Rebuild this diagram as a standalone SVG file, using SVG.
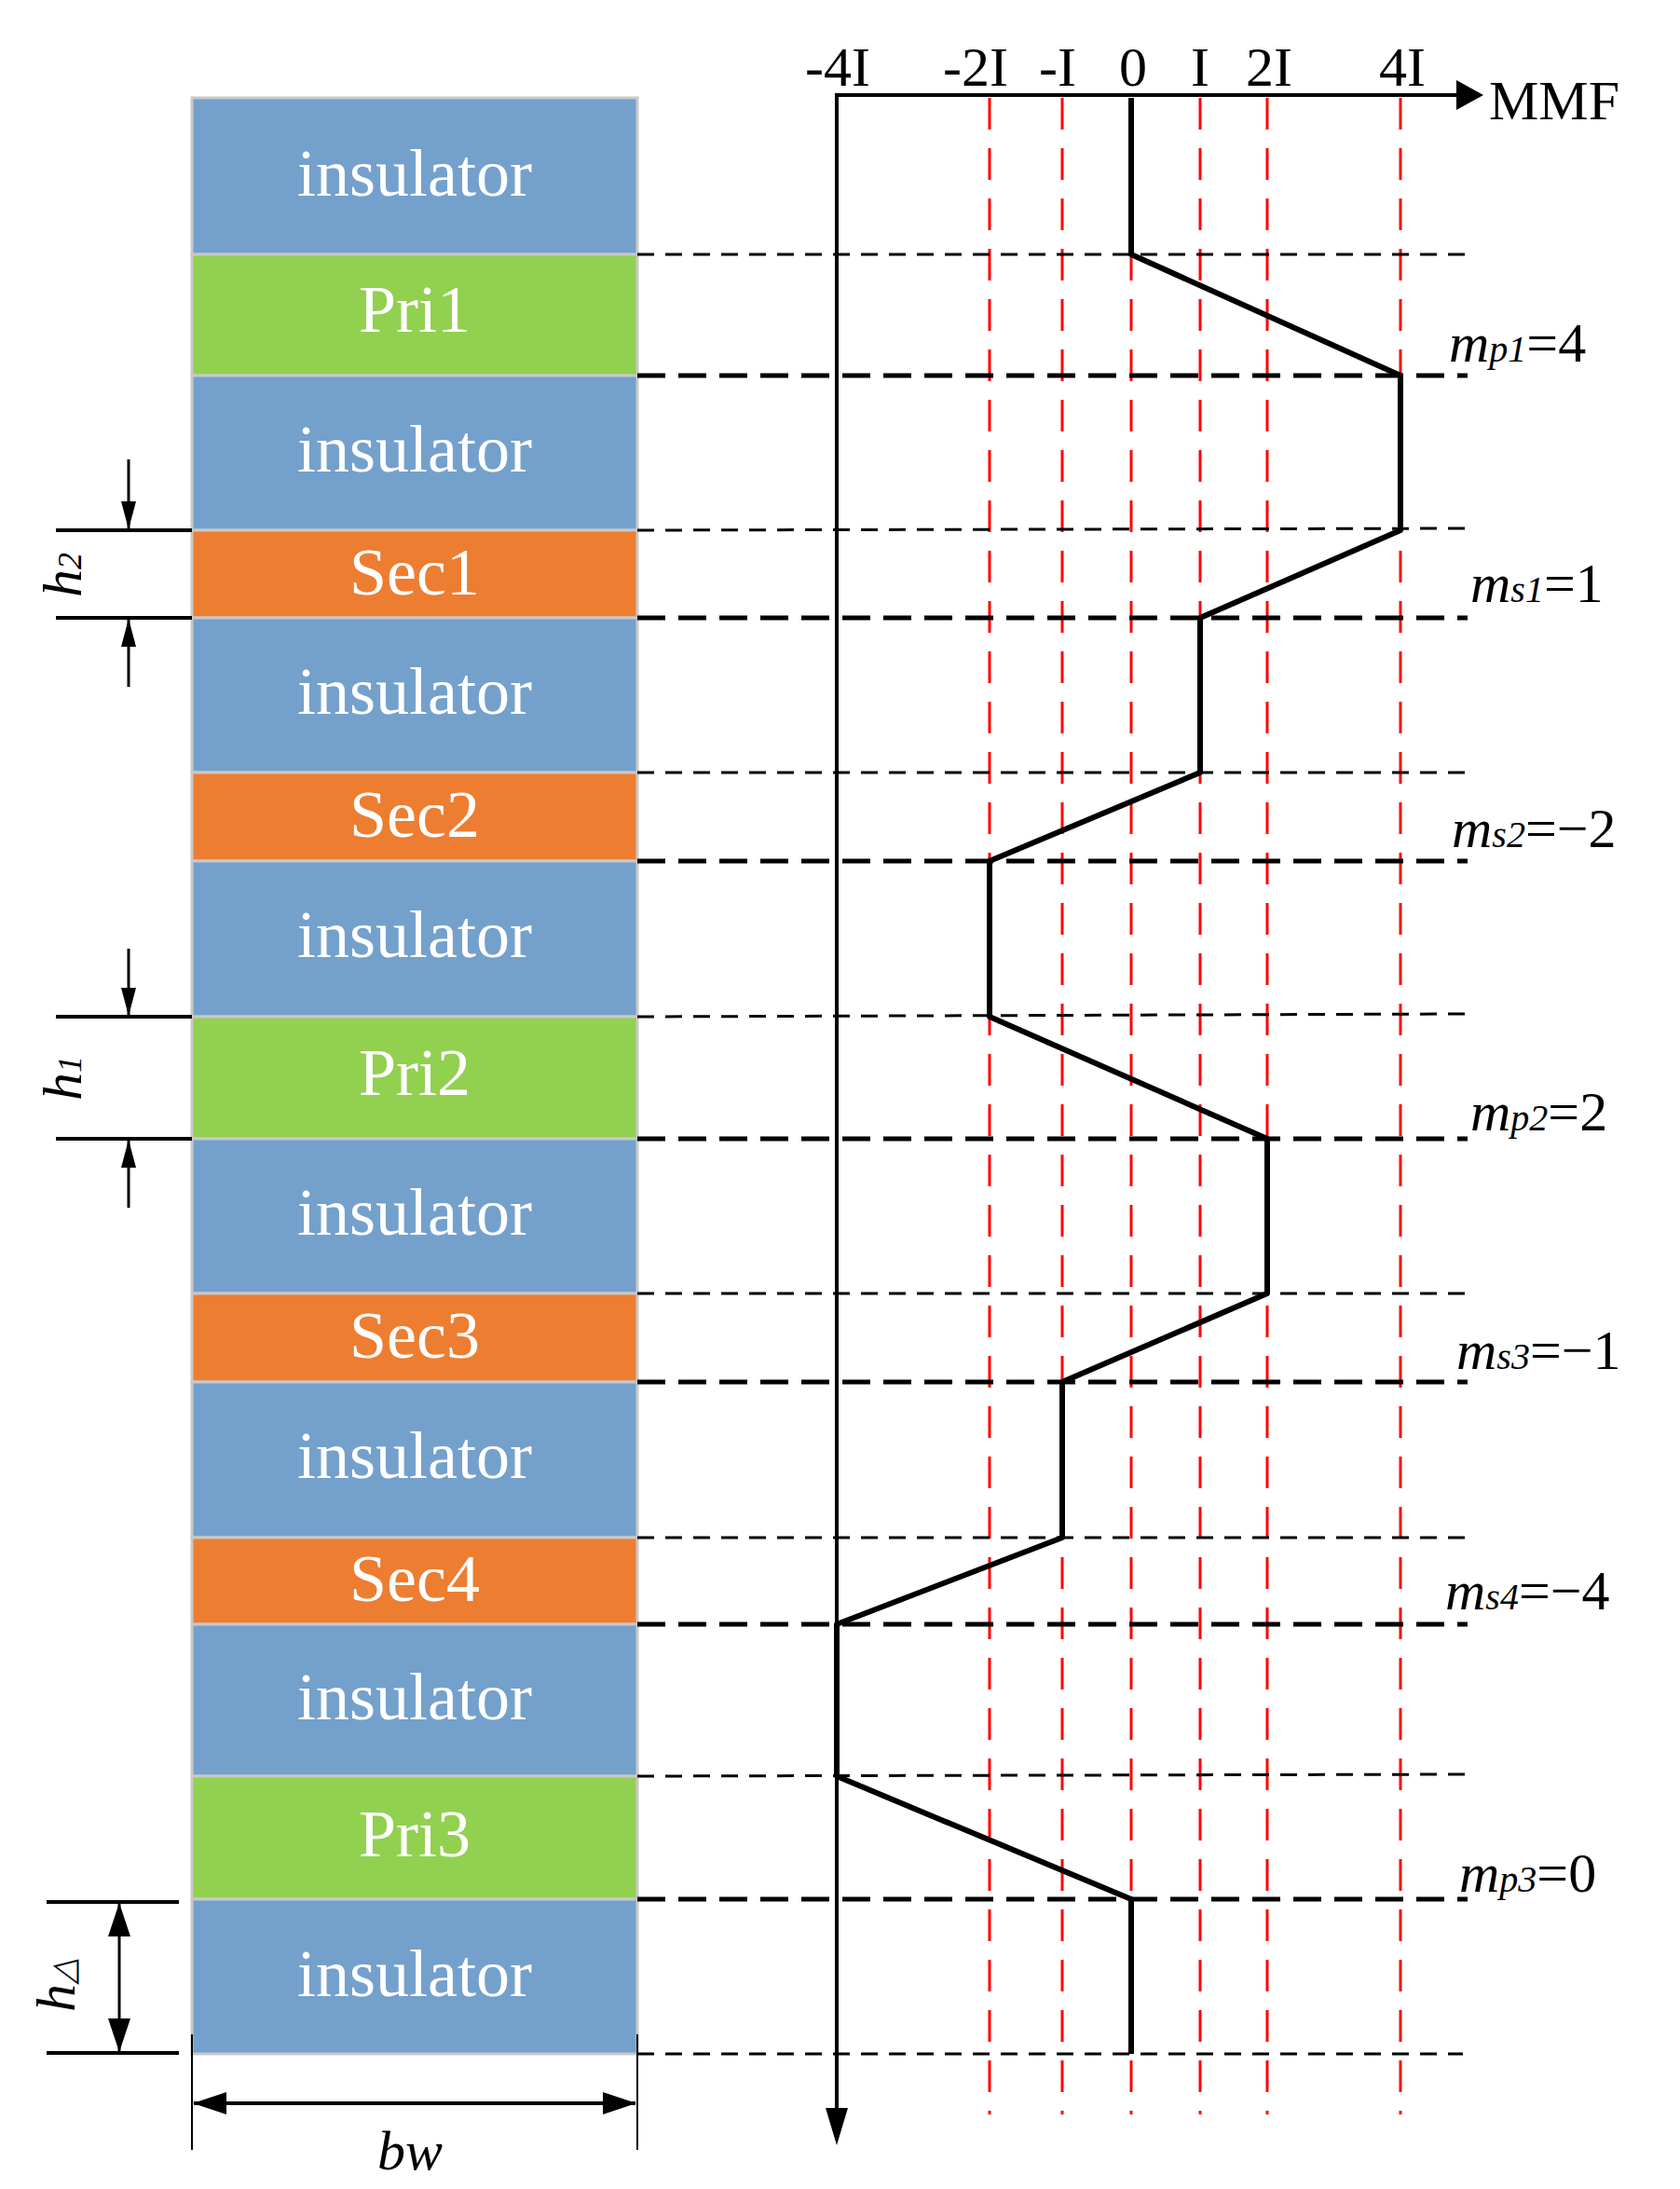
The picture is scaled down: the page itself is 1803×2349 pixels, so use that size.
<svg xmlns="http://www.w3.org/2000/svg" width="1803" height="2349" viewBox="0 0 1803 2349">
<style>
.ins{fill:#74A0CC;stroke:#C8C8C8;stroke-width:3}
.pri{fill:#92D050;stroke:#C8C8C8;stroke-width:3}
.sec{fill:#ED7D31;stroke:#C8C8C8;stroke-width:3}
.bl{font-family:"Liberation Serif",serif;font-size:72px;fill:#fff;text-anchor:middle}
.ax{font-family:"Liberation Serif",serif;font-size:60px;fill:#000;text-anchor:middle}
.lb{font-family:"Liberation Serif",serif;font-size:60px;fill:#000}
.it{font-style:italic}
.red{stroke:#FF0000;stroke-width:3;stroke-dasharray:34,20;fill:none}
.thin{stroke:#000;stroke-width:3;stroke-dasharray:18,12;fill:none}
.thick{stroke:#000;stroke-width:5;stroke-dasharray:30,14;fill:none}
.k{stroke:#000;fill:none}
</style>
<defs>
<marker id="ah" markerWidth="10" markerHeight="10" refX="9" refY="5" orient="auto" markerUnits="userSpaceOnUse" viewBox="0 0 10 10"><path d="M0,0 L10,5 L0,10 z" fill="#000"/></marker>
<marker id="ab" markerWidth="36" markerHeight="24" refX="35" refY="12" orient="auto-start-reverse" markerUnits="userSpaceOnUse"><path d="M0,0 L36,12 L0,24 z" fill="#000"/></marker>
<marker id="as" markerWidth="30" markerHeight="16" refX="29" refY="8" orient="auto-start-reverse" markerUnits="userSpaceOnUse"><path d="M0,0 L30,8 L0,16 z" fill="#000"/></marker>
</defs>
<g id="blocks">
<g id="ins1"><rect class="ins" x="206" y="105" width="478" height="168"/><text class="bl" x="445" y="210">insulator</text></g>
<g id="pri1"><rect class="pri" x="206" y="273" width="478" height="130"/><text class="bl" x="445" y="356">Pri1</text></g>
<g id="ins2"><rect class="ins" x="206" y="403" width="478" height="166"/><text class="bl" x="445" y="506">insulator</text></g>
<g id="sec1"><rect class="sec" x="206" y="569" width="478" height="94"/><text class="bl" x="445" y="638">Sec1</text></g>
<g id="ins3"><rect class="ins" x="206" y="663" width="478" height="166"/><text class="bl" x="445" y="766">insulator</text></g>
<g id="sec2"><rect class="sec" x="206" y="829" width="478" height="95"/><text class="bl" x="445" y="898">Sec2</text></g>
<g id="ins4"><rect class="ins" x="206" y="924" width="478" height="167"/><text class="bl" x="445" y="1027">insulator</text></g>
<g id="pri2"><rect class="pri" x="206" y="1091" width="478" height="131"/><text class="bl" x="445" y="1175">Pri2</text></g>
<g id="ins5"><rect class="ins" x="206" y="1222" width="478" height="166"/><text class="bl" x="445" y="1325">insulator</text></g>
<g id="sec3"><rect class="sec" x="206" y="1388" width="478" height="95"/><text class="bl" x="445" y="1457">Sec3</text></g>
<g id="ins6"><rect class="ins" x="206" y="1483" width="478" height="167"/><text class="bl" x="445" y="1586">insulator</text></g>
<g id="sec4"><rect class="sec" x="206" y="1650" width="478" height="93"/><text class="bl" x="445" y="1718">Sec4</text></g>
<g id="ins7"><rect class="ins" x="206" y="1743" width="478" height="163"/><text class="bl" x="445" y="1845">insulator</text></g>
<g id="pri3"><rect class="pri" x="206" y="1906" width="478" height="132"/><text class="bl" x="445" y="1992">Pri3</text></g>
<g id="ins8"><rect class="ins" x="206" y="2038" width="478" height="166"/><text class="bl" x="445" y="2142">insulator</text></g>
</g>
<g id="connectors">
<g id="redlines">
<line class="red" x1="1062" y1="105" x2="1062" y2="2269"/>
<line class="red" x1="1140" y1="105" x2="1140" y2="2269"/>
<line class="red" x1="1214" y1="105" x2="1214" y2="2269"/>
<line class="red" x1="1288" y1="105" x2="1288" y2="2269"/>
<line class="red" x1="1360" y1="105" x2="1360" y2="2269"/>
<line class="red" x1="1503" y1="105" x2="1503" y2="2269"/>
</g>
<g id="hlines">
<line class="thin" x1="684" y1="273" x2="1575" y2="273"/>
<line class="thick" x1="684" y1="403" x2="1575" y2="403"/>
<line class="thin" x1="684" y1="569" x2="1575" y2="567"/>
<line class="thick" x1="684" y1="663" x2="1575" y2="663"/>
<line class="thin" x1="684" y1="829" x2="1575" y2="829"/>
<line class="thick" x1="684" y1="924" x2="1575" y2="924"/>
<line class="thin" x1="684" y1="1091" x2="1575" y2="1088"/>
<line class="thick" x1="684" y1="1222" x2="1575" y2="1222"/>
<line class="thin" x1="684" y1="1388" x2="1575" y2="1388"/>
<line class="thick" x1="684" y1="1483" x2="1575" y2="1483"/>
<line class="thin" x1="684" y1="1650" x2="1575" y2="1650"/>
<line class="thick" x1="684" y1="1743" x2="1575" y2="1743"/>
<line class="thin" x1="684" y1="1906" x2="1575" y2="1904"/>
<line class="thick" x1="684" y1="2038" x2="1575" y2="2038"/>
<line class="thin" x1="684" y1="2204" x2="1570" y2="2204"/>
</g>
<g id="axes">
<polyline class="k" stroke-width="4" points="898,2290 898,102 1570,102" />
<path d="M1563,86 L1592,102 L1563,118 z" fill="#000"/>
<path d="M886,2262 L898,2302 L910,2262 z" fill="#000"/>
</g>
<polyline id="mmf" class="k" stroke-width="6" stroke-linejoin="round" points="1214,105 1214,273 1503,403 1503,569 1288,663 1288,829 1062,924 1062,1091 1360,1222 1360,1388 1140,1483 1140,1650 898,1743 898,1906 1214,2038 1214,2204"/>
<g id="dims">
<line class="k" stroke-width="4" x1="60" y1="569" x2="206" y2="569"/>
<line class="k" stroke-width="4" x1="60" y1="663" x2="206" y2="663"/>
<line class="k" stroke-width="3" x1="138" y1="493" x2="138" y2="567" marker-end="url(#as)"/>
<line class="k" stroke-width="3" x1="138" y1="737" x2="138" y2="665" marker-end="url(#as)"/>
<line class="k" stroke-width="4" x1="60" y1="1091" x2="206" y2="1091"/>
<line class="k" stroke-width="4" x1="60" y1="1222" x2="206" y2="1222"/>
<line class="k" stroke-width="3" x1="138" y1="1018" x2="138" y2="1089" marker-end="url(#as)"/>
<line class="k" stroke-width="3" x1="138" y1="1296" x2="138" y2="1224" marker-end="url(#as)"/>
<line class="k" stroke-width="4" x1="50" y1="2041" x2="192" y2="2041"/>
<line class="k" stroke-width="4" x1="50" y1="2203" x2="192" y2="2203"/>
<line class="k" stroke-width="3" x1="128" y1="2043" x2="128" y2="2201" marker-start="url(#ab)" marker-end="url(#ab)"/>
<line class="k" stroke-width="2" x1="206" y1="2183" x2="206" y2="2307"/>
<line class="k" stroke-width="2" x1="684" y1="2183" x2="684" y2="2307"/>
<line class="k" stroke-width="4" x1="208" y1="2257" x2="682" y2="2257" marker-start="url(#ab)" marker-end="url(#ab)"/>
</g>
</g>
<g id="labels">
<text class="ax" x="899" y="92">-4I</text>
<text class="ax" x="1047" y="92">-2I</text>
<text class="ax" x="1135" y="92">-I</text>
<text class="ax" x="1216" y="92">0</text>
<text class="ax" x="1288" y="92">I</text>
<text class="ax" x="1362" y="92">2I</text>
<text class="ax" x="1505" y="92">4I</text>
<text class="lb" x="1598" y="128">MMF</text>
<text class="lb" x="1555" y="388"><tspan class="it">m</tspan><tspan class="it" font-size="40">p1</tspan>=4</text>
<text class="lb" x="1578" y="646"><tspan class="it">m</tspan><tspan class="it" font-size="40">s1</tspan>=1</text>
<text class="lb" x="1558" y="909"><tspan class="it">m</tspan><tspan class="it" font-size="40">s2</tspan>=−2</text>
<text class="lb" x="1578" y="1213"><tspan class="it">m</tspan><tspan class="it" font-size="40">p2</tspan>=2</text>
<text class="lb" x="1563" y="1469"><tspan class="it">m</tspan><tspan class="it" font-size="40">s3</tspan>=−1</text>
<text class="lb" x="1551" y="1727"><tspan class="it">m</tspan><tspan class="it" font-size="40">s4</tspan>=−4</text>
<text class="lb" x="1566" y="2030"><tspan class="it">m</tspan><tspan class="it" font-size="40">p3</tspan>=0</text>
<text class="lb it" transform="translate(87,617) rotate(-90)" text-anchor="middle"><tspan>h</tspan><tspan font-size="36">2</tspan></text>
<text class="lb it" transform="translate(87,1157) rotate(-90)" text-anchor="middle"><tspan>h</tspan><tspan font-size="36">1</tspan></text>
<text class="lb it" transform="translate(80,2130) rotate(-90)" text-anchor="middle"><tspan>h</tspan><tspan font-size="36">△</tspan></text>
<text class="lb it" x="440" y="2328" text-anchor="middle">bw</text>
</g>
</svg>
